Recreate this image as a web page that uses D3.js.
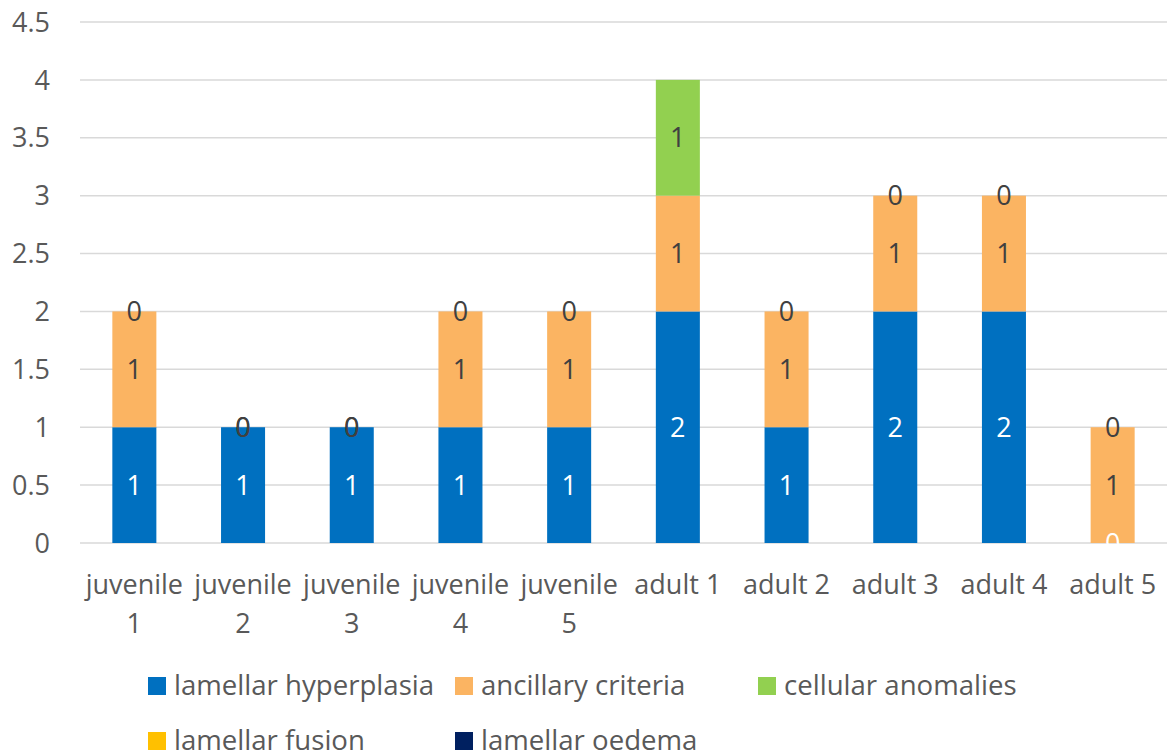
<!DOCTYPE html>
<html>
<head>
<meta charset="utf-8">
<script src="https://cdn.jsdelivr.net/npm/d3@7"></script>
<style>
  body { margin: 0; background: #fff; }
  svg { font-family: "Open Sans", sans-serif; }
</style>
</head>
<body>
<svg class="container"></svg>
<script>
const categories = ["juvenile 1", "juvenile 2", "juvenile 3", "juvenile 4", "juvenile 5",
                    "adult 1", "adult 2", "adult 3", "adult 4", "adult 5"];
const seriesNames = ["lamellar hyperplasia", "ancillary criteria", "cellular anomalies",
                     "lamellar fusion", "lamellar oedema"];
const hyperplasia = [1, 1, 1, 1, 1, 2, 1, 2, 2, 0];
const ancillary   = [1, 0, 0, 1, 1, 1, 1, 1, 1, 1];
const cellular    = [0, 0, 0, 0, 0, 1, 0, 0, 0, 0];
const fusion      = [null, null, null, null, null, null, null, null, null, null];
const oedema      = [null, null, null, null, null, null, null, null, null, null];
const yTicks = [0, 0.5, 1, 1.5, 2, 2.5, 3, 3.5, 4, 4.5];

const colors = ["#0070C0", "#FBB462", "#92D050", "#FFC000", "#002060"];
const labelColors = ["#ffffff", "#404040", "#404040", "#404040", "#ffffff"];

const width = 1167, height = 755;
const margin = { top: 22, right: 0, bottom: 212, left: 80 };
const innerHeight = height - margin.top - margin.bottom;

const svg = d3.select(".container").attr("width", width).attr("height", height);

const xScale = d3.scaleBand().domain(categories).range([margin.left, width]).paddingInner(0.595).paddingOuter(0.2975);
const yScale = d3.scaleLinear().domain([0, 4.5]).range([margin.top + innerHeight, margin.top]);

// gridlines
svg.append("g").selectAll("line").data(yTicks).join("line")
  .attr("x1", margin.left).attr("x2", width)
  .attr("y1", d => yScale(d)).attr("y2", d => yScale(d))
  .attr("stroke", "#D9D9D9").attr("stroke-width", 1.5);

// y tick labels
svg.append("g").selectAll("text").data(yTicks).join("text")
  .attr("x", 50).attr("y", d => yScale(d)).attr("dy", "0.36em")
  .attr("text-anchor", "end").attr("font-size", 27).attr("fill", "#595959")
  .text(d => d);

// stack
const rows = categories.map((c, i) => ({
  cat: c, s0: hyperplasia[i], s1: ancillary[i], s2: cellular[i], s3: fusion[i], s4: oedema[i]
}));
const keys = ["s0", "s1", "s2", "s3", "s4"];
const stacked = d3.stack().keys(keys).value((d, k) => d[k] || 0)(rows);

const layers = svg.append("g").selectAll("g").data(stacked).join("g")
  .attr("fill", (d, i) => colors[i]);
layers.selectAll("rect").data(d => d).join("rect")
  .attr("x", d => xScale(d.data.cat))
  .attr("width", xScale.bandwidth())
  .attr("y", d => yScale(d[1]))
  .attr("height", d => yScale(d[0]) - yScale(d[1]));

// data labels (skip empty values)
const labelG = svg.append("g");
stacked.forEach((layer, li) => {
  labelG.append("g").selectAll("text")
    .data(layer.filter(d => d.data[keys[li]] !== null))
    .join("text")
    .attr("x", d => xScale(d.data.cat) + xScale.bandwidth() / 2)
    .attr("y", d => yScale((d[0] + d[1]) / 2))
    .attr("dy", "0.36em")
    .attr("text-anchor", "middle").attr("font-size", 27)
    .attr("fill", labelColors[li])
    .text(d => d.data[keys[li]]);
});

// x labels with wrap
const xLab = svg.append("g").selectAll("text").data(categories).join("text")
  .attr("x", d => xScale(d) + xScale.bandwidth() / 2)
  .attr("y", 594)
  .attr("text-anchor", "middle").attr("font-size", 27).attr("fill", "#595959")
  .text(d => d);

xLab.each(function(d) {
  const t = d3.select(this);
  if (this.getComputedTextLength() > xScale.step()) {
    const words = d.split(" ");
    const last = words.pop();
    t.text(null);
    t.append("tspan").attr("x", t.attr("x")).text(words.join(" "));
    t.append("tspan").attr("x", t.attr("x")).attr("dy", 39).text(last);
  }
});

// legend
const legendX = [148, 455, 758];
const legendY = [695, 750];
const legend = svg.append("g").selectAll("g").data(seriesNames).join("g")
  .attr("transform", (d, i) => `translate(${legendX[i % 3]}, ${legendY[Math.floor(i / 3)]})`);
legend.append("rect").attr("x", 0).attr("y", -18).attr("width", 18).attr("height", 18)
  .attr("fill", (d, i) => colors[i]);
legend.append("text").attr("x", 26).attr("y", 0)
  .attr("font-size", 27.6).attr("fill", "#595959")
  .text(d => d);
</script>
</body>
</html>
